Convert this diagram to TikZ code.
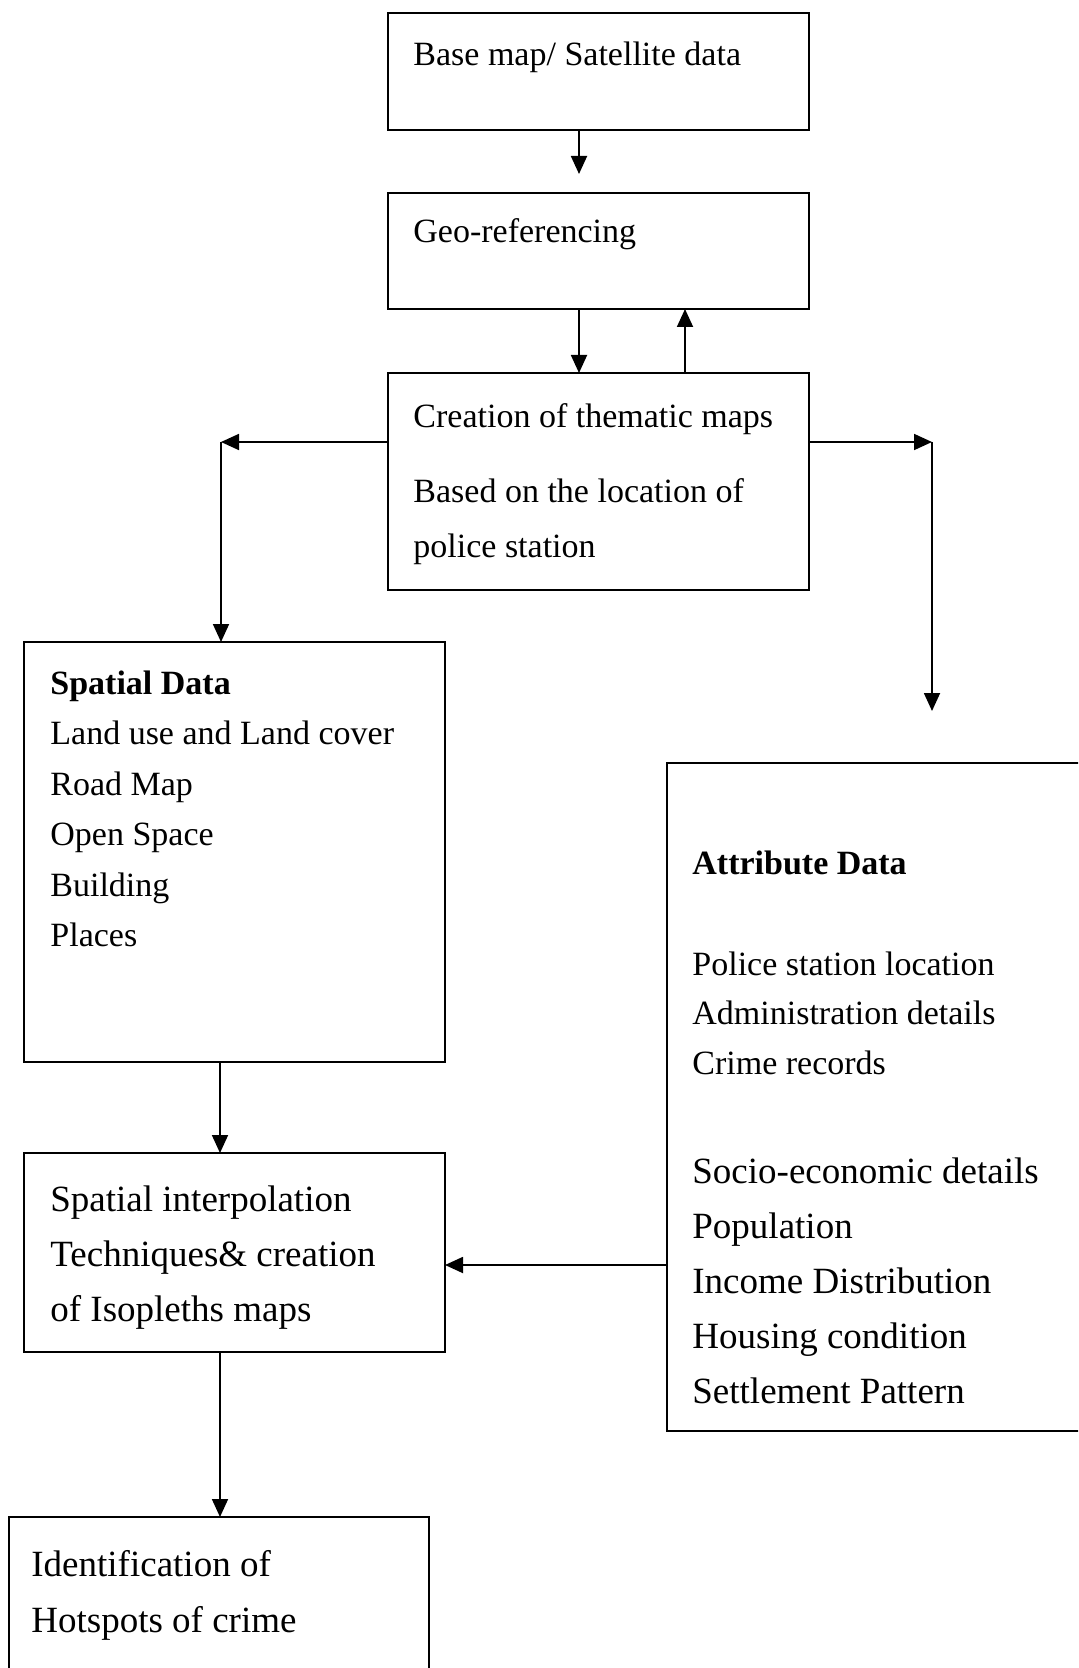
\documentclass[tikz,border=0pt]{standalone}
\usepackage{fontspec}
\setmainfont{Liberation Serif}
\usetikzlibrary{arrows.meta}
\begin{document}
\begin{tikzpicture}[x=0.5pt,y=-0.5pt,
  box/.style={draw, line width=1pt, inner sep=0pt, outer sep=0pt},
  arr/.style={line width=0.9pt, -{Triangle[length=9pt,width=8pt]}},
  txt/.style={anchor=base west, inner sep=0pt, align=left},
  fa/.style={font=\fontsize{17pt}{25.25pt}\selectfont},
  fb/.style={font=\fontsize{18.5pt}{27.5pt}\selectfont}]
\fill[white] (0,0) rectangle (1078,1668);
\clip (0,0) rectangle (1078,1668);
% boxes
\node[box, minimum width=210.5pt, minimum height=58.5pt] (b1) at (598.5,71.5) {};
\node[box, minimum width=210.5pt, minimum height=58pt] (b2) at (598.5,251) {};
\node[box, minimum width=210.5pt, minimum height=108.5pt] (b3) at (598.5,481.5) {};
\node[box, minimum width=210.5pt, minimum height=210pt] (sp) at (234.5,852) {};
\node[box, minimum width=210.5pt, minimum height=99.5pt] (ip) at (234.5,1252.5) {};
\node[box, minimum width=207.5pt, minimum height=334pt] (at) at (874.5,1097) {};
\node[box, minimum width=210pt, minimum height=91.5pt] (hs) at (219,1608.5) {};
% texts (base anchor = baseline of the last line)
\node[txt, fa] (t1) at (413,66) {Base map/ Satellite data};
\node[txt, fa] (t2) at (413,243) {Geo-referencing};
\node[txt, font=\fontsize{17pt}{27.5pt}\selectfont] (t3) at (413,557) {Creation of thematic maps\\[10pt]Based on the location of\\police station};
\node[txt, fa] (t4) at (50,946.5) {\textbf{Spatial Data}\\Land use and Land cover\\Road Map\\Open Space\\Building\\Places};
\node[txt, fa] (t5) at (692,874) {\textbf{Attribute Data}};
\node[txt, font=\fontsize{17pt}{24.75pt}\selectfont] (t6) at (692,1074) {Police station location\\Administration details\\Crime records};
\node[txt, font=\fontsize{18.5pt}{27.4pt}\selectfont] (t7) at (692,1403) {Socio-economic details\\Population\\Income Distribution\\Housing condition\\Settlement Pattern};
\node[txt, fb] (t8) at (50,1321) {Spatial interpolation\\Techniques\& creation\\of Isopleths maps};
\node[txt, font=\fontsize{18.5pt}{28pt}\selectfont] (t9) at (31,1632) {Identification of\\Hotspots of crime};
% connector coordinates
\coordinate (xa) at (579,0);
\coordinate (xb) at (685,0);
\coordinate (lc) at (221,442);
\coordinate (rc) at (932,442);
\coordinate (rend) at (932,711);
\coordinate (xc) at (220,0);
\coordinate (yd) at (0,1265);
% connectors
\draw[arr, shorten >=9.5pt] (b1.south -| xa) -- (b2.north -| xa);
\draw[arr] (b2.south -| xa) -- (b3.north -| xa);
\draw[arr] (b3.north -| xb) -- (b2.south -| xb);
\draw[arr] (b3.west |- lc) -- (lc);
\draw[arr] (lc) -- (sp.north -| lc);
\draw[arr] (b3.east |- rc) -- (rc);
\draw[arr] (rc) -- (rend);
\draw[arr] (sp.south -| xc) -- (ip.north -| xc);
\draw[arr] (at.west |- yd) -- (ip.east |- yd);
\draw[arr] (ip.south -| xc) -- (hs.north -| xc);
\end{tikzpicture}
\end{document}
